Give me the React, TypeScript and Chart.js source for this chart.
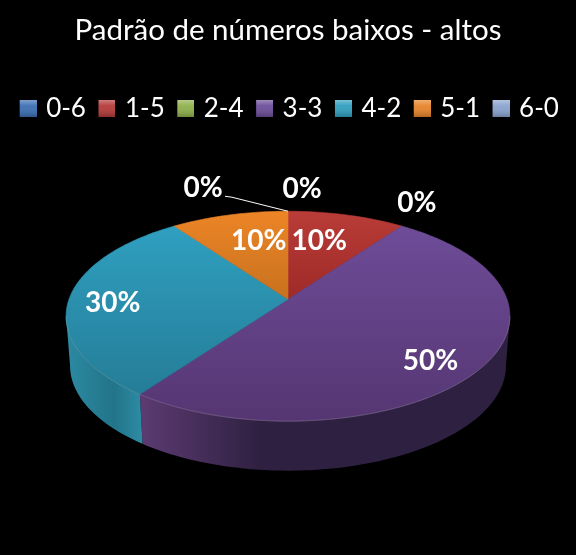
import { useEffect, useRef } from "react";
import { Chart, registerables } from "chart.js";

Chart.register(...registerables);

const titleText = "Padrão de números baixos - altos";
const categories = ["0-6", "1-5", "2-4", "3-3", "4-2", "5-1", "6-0"];
const shares = [0, 10, 0, 50, 30, 10, 0];

const baseColors = ["#3b6fb4", "#b53a38", "#8fb14b", "#6c4d9b", "#2f9fbf", "#e8842a", "#8aa5d1"];
const faceLight = ["#4f81bd", "#b93c38", "#9bbb59", "#6e4c98", "#2f9fc0", "#ec8526", "#a0b8dc"];
const faceDark = ["#3b6fb4", "#9e2a27", "#8fb14b", "#553672", "#257d97", "#c8711f", "#8aa5d1"];
const wallLight = ["#3b6fb4", "#7a2422", "#7a9440", "#5c3b72", "#2c8aa2", "#a65e1c", "#7a92b8"];
const wallDark = ["#2c5488", "#5c1b1a", "#5d7131", "#2e2040", "#22748a", "#7c4615", "#5c6e8a"];

// label placement: fraction of the radius along the slice's middle angle, then a small nudge
const labelRadius = [1.34, 0.62, 1.1, 0.8, 0.8, 0.62, 1.34];
const labelNudge = [
  [14, 2],
  [-7, -3],
  [5, -17],
  [-11, 10],
  [0, 4],
  [9, -3],
  [-85, 1],
];

// look of the tilted disc
const stretchX = 219;
const stretchY = 102.2;
const perspective = 0.162;
const wallDepth = 49.5;
const wallShrink = 0.982;
const wallFrom = Math.acos(-perspective);
const wallTo = 2 * Math.PI - wallFrom;

function project(cx: number, cy: number, theta: number, r: number) {
  const u = r * Math.sin(theta);
  const w = r * Math.cos(theta);
  const d = 1 + perspective * w;
  return { x: cx + (stretchX * u) / d, y: cy - (stretchY * w) / d };
}

function makeMarker(color: string) {
  const c = document.createElement("canvas");
  c.width = 23;
  c.height = 17;
  const g = c.getContext("2d")!;
  g.fillStyle = color;
  g.fillRect(6, 0, 17, 17);
  const grad = g.createLinearGradient(0, 0, 0, 17);
  grad.addColorStop(0, "rgba(255,255,255,0.35)");
  grad.addColorStop(0.35, "rgba(255,255,255,0.05)");
  grad.addColorStop(1, "rgba(0,0,0,0.22)");
  g.fillStyle = grad;
  g.fillRect(6, 0, 17, 17);
  return c;
}

function rimPoints(cx: number, cy: number, from: number, to: number) {
  const step = Math.PI / 180;
  const pts: { x: number; y: number }[] = [];
  for (let t = from; t < to; t += step) pts.push(project(cx, cy, t, 1));
  pts.push(project(cx, cy, to, 1));
  return pts;
}

const tiltedPie = {
  id: "tiltedPie",
  beforeDatasetsDraw(chart: any) {
    const { ctx } = chart;
    const arcs = chart.getDatasetMeta(0).data;
    const cx = arcs[0].x;
    const cy = arcs[0].y;

    const angles = arcs.map((a: any) => ({
      from: a.startAngle + Math.PI / 2,
      to: a.endAngle + Math.PI / 2,
    }));

    // outer wall, only the part facing the viewer
    arcs.forEach((_: any, i: number) => {
      const from = Math.max(angles[i].from, wallFrom);
      const to = Math.min(angles[i].to, wallTo);
      if (to <= from) return;
      const upper = rimPoints(cx, cy, from, to);
      const lower = upper.map((p) => ({
        x: cx + (p.x - cx) * wallShrink,
        y: p.y + wallDepth,
      }));
      const xs = upper.map((p) => p.x);
      const left = Math.min(...xs);
      const right = Math.max(...xs);
      const grad = ctx.createLinearGradient(left, 0, right, 0);
      grad.addColorStop(0, wallLight[i]);
      if (shares[i] === 50) {
        grad.addColorStop(0.33, wallDark[i]);
      } else {
        grad.addColorStop(0.65, wallDark[i]);
      }
      grad.addColorStop(1, shares[i] === 50 ? wallDark[i] : wallLight[i]);
      ctx.beginPath();
      upper.forEach((p, k) => (k ? ctx.lineTo(p.x, p.y) : ctx.moveTo(p.x, p.y)));
      lower.reverse().forEach((p) => ctx.lineTo(p.x, p.y));
      ctx.closePath();
      ctx.fillStyle = grad;
      ctx.fill();
    });

    // top face
    arcs.forEach((_: any, i: number) => {
      const { from, to } = angles[i];
      if (to - from < 0.0001) return;
      const rim = rimPoints(cx, cy, from, to);
      const ys = [cy, ...rim.map((p) => p.y)];
      const grad = ctx.createLinearGradient(0, Math.min(...ys), 0, Math.max(...ys));
      grad.addColorStop(0, faceLight[i]);
      grad.addColorStop(1, faceDark[i]);
      ctx.beginPath();
      ctx.moveTo(cx, cy);
      rim.forEach((p) => ctx.lineTo(p.x, p.y));
      ctx.closePath();
      ctx.fillStyle = grad;
      ctx.fill();
      ctx.strokeStyle = grad;
      ctx.lineWidth = 0.6;
      ctx.stroke();

      // thin bright edge where the face meets the wall
      const edgeFrom = Math.max(from, wallFrom);
      const edgeTo = Math.min(to, wallTo);
      if (edgeTo > edgeFrom) {
        ctx.beginPath();
        rimPoints(cx, cy, edgeFrom, edgeTo).forEach((p, k) =>
          k ? ctx.lineTo(p.x, p.y) : ctx.moveTo(p.x, p.y)
        );
        ctx.strokeStyle = "rgba(255,255,255,0.18)";
        ctx.lineWidth = 1;
        ctx.stroke();
      }
    });

    // percentage labels
    const total = shares.reduce((a, b) => a + b, 0);
    ctx.font = "bold 28px Lato";
    ctx.fillStyle = "#ffffff";
    ctx.textAlign = "center";
    ctx.textBaseline = "middle";
    arcs.forEach((_: any, i: number) => {
      const mid = (angles[i].from + angles[i].to) / 2;
      const p = project(cx, cy, mid, labelRadius[i]);
      const text = Math.round((shares[i] / total) * 100) + "%";
      ctx.fillText(text, p.x + labelNudge[i][0], p.y + labelNudge[i][1]);
    });

    // leader line of the last zero slice
    const end = project(cx, cy, angles[6].from, 1);
    ctx.beginPath();
    ctx.moveTo(end.x - 63, end.y - 15);
    ctx.lineTo(end.x - 56, end.y - 14);
    ctx.lineTo(end.x, end.y);
    ctx.strokeStyle = "#ffffff";
    ctx.lineWidth = 1;
    ctx.stroke();

    return false;
  },
};

export default function App() {
  const canvasRef = useRef<HTMLCanvasElement>(null);

  useEffect(() => {
    if (!canvasRef.current) return;
    document.body.style.margin = "0";
    document.body.style.background = "#000000";

    const chart = new Chart(canvasRef.current, {
      type: "pie",
      data: {
        labels: categories,
        datasets: [{ data: shares, backgroundColor: baseColors, borderWidth: 0 }],
      },
      options: {
        responsive: false,
        animation: false,
        layout: { padding: { top: 13, bottom: 88 } },
        plugins: {
          title: {
            display: true,
            text: titleText,
            color: "#ffffff",
            font: { family: "Lato", size: 29.5, weight: "normal" },
            padding: { top: 0, bottom: 37 },
          },
          legend: {
            position: "top",
            labels: {
              color: "#ffffff",
              font: { family: "Lato", size: 26 },
              usePointStyle: true,
              pointStyleWidth: 16,
              padding: 10,
              generateLabels: () =>
                categories.map((name, i) => ({
                  text: name,
                  fontColor: "#ffffff",
                  fillStyle: baseColors[i],
                  strokeStyle: baseColors[i],
                  pointStyle: makeMarker(baseColors[i]),
                  hidden: false,
                  index: i,
                  lineWidth: 0,
                })),
            },
          },
          tooltip: { enabled: false },
        },
      },
      plugins: [tiltedPie],
    } as any);

    return () => chart.destroy();
  }, []);

  return (
    <div style={{ width: 576, height: 555, background: "#000000" }}>
      <canvas ref={canvasRef} width={576} height={555} style={{ display: "block" }} />
    </div>
  );
}
